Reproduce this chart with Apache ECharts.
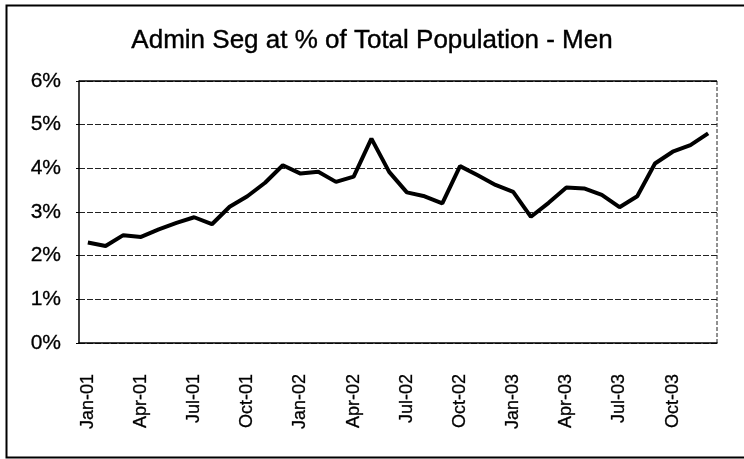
<!DOCTYPE html>
<html>
<head>
<meta charset="utf-8">
<script src="https://cdn.jsdelivr.net/npm/echarts@6/dist/echarts.min.js"></script>
<style>html,body{margin:0;padding:0;background:#fff;}#c{width:744px;height:459px;}</style>
</head>
<body>
<div id="c"></div>
<script>
var titleText = 'Admin Seg at % of Total Population - Men';
var months = ['Jan-01','Feb-01','Mar-01','Apr-01','May-01','Jun-01','Jul-01','Aug-01','Sep-01','Oct-01','Nov-01','Dec-01',
              'Jan-02','Feb-02','Mar-02','Apr-02','May-02','Jun-02','Jul-02','Aug-02','Sep-02','Oct-02','Nov-02','Dec-02',
              'Jan-03','Feb-03','Mar-03','Apr-03','May-03','Jun-03','Jul-03','Aug-03','Sep-03','Oct-03','Nov-03','Dec-03'];
var pctValues = [2.30,2.22,2.47,2.43,2.60,2.75,2.88,2.72,3.12,3.36,3.67,4.07,
                 3.88,3.92,3.69,3.81,4.68,3.92,3.45,3.36,3.20,4.05,3.84,3.62,
                 3.46,2.89,3.21,3.56,3.54,3.39,3.11,3.36,4.11,4.38,4.53,4.80];
var yTicks = [0,1,2,3,4,5,6];

var chart = echarts.init(document.getElementById('c'), null, {renderer:'canvas'});
chart.setOption({
  backgroundColor:'#fff',
  animation:false,
  title:{text:titleText,left:'center',top:23,textStyle:{fontFamily:'Liberation Sans, Arial',fontSize:26,fontWeight:'normal',color:'#000',textBorderColor:'#000',textBorderWidth:0.4}},
  graphic:[{type:'rect',shape:{x:6.5,y:5.5,width:745,height:452},style:{fill:'none',stroke:'#000',lineWidth:2}},
           {type:'line',shape:{x1:79,y1:81,x2:717,y2:81},style:{stroke:'#000',lineWidth:1.5},z:10},
           {type:'line',shape:{x1:717,y1:81,x2:717,y2:343},style:{stroke:'#222',lineWidth:1,lineDash:[4,2]}}],
  grid:{left:79,right:27,top:81,bottom:116},
  xAxis:{type:'category',data:months,boundaryGap:true,
    axisLine:{lineStyle:{color:'#000',width:1.5}},
    axisTick:{interval:2,length:5,lineStyle:{color:'#000'}},
    axisLabel:{interval:2,rotate:90,margin:31,fontFamily:'Liberation Sans, Arial',fontSize:18,color:'#000',textBorderColor:'#000',textBorderWidth:0.3},
    splitLine:{show:false}},
  yAxis:{type:'value',min:yTicks[0],max:yTicks[yTicks.length-1],interval:1,
    axisLine:{show:true,lineStyle:{color:'#000',width:1.5}},
    axisTick:{show:true,length:3,lineStyle:{color:'#000'}},
    axisLabel:{formatter:function(v){return v+'%';},margin:18,fontFamily:'Liberation Sans, Arial',fontSize:21,color:'#000',textBorderColor:'#000',textBorderWidth:0.3},
    splitLine:{show:true,lineStyle:{color:'#222',width:1,type:[6,2]}}},
  series:[{type:'line',data:pctValues,symbol:'none',lineStyle:{color:'#000',width:4},z:5}]
});
</script>
</body>
</html>
